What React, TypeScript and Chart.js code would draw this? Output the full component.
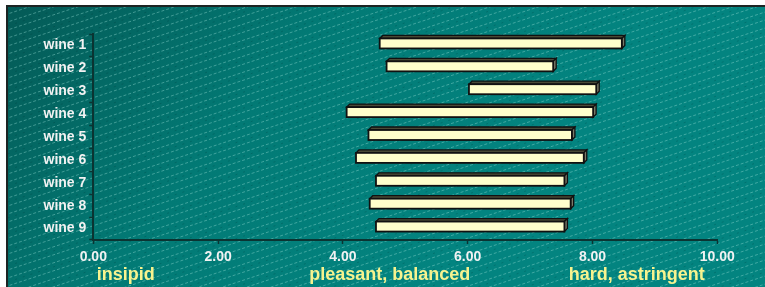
import React, { useEffect, useRef } from "react";
import { Chart, registerables } from "chart.js";

Chart.register(...registerables);

const wines = ["wine 1", "wine 2", "wine 3", "wine 4", "wine 5", "wine 6", "wine 7", "wine 8", "wine 9"];
const lowValues = [4.59, 4.70, 6.02, 4.06, 4.41, 4.21, 4.53, 4.43, 4.53];
const highValues = [8.47, 7.37, 8.06, 8.01, 7.67, 7.86, 7.55, 7.65, 7.55];
const xMin = 0;
const xMax = 10;
const xStep = 2;
const descriptorLabels = ["insipid", "pleasant, balanced", "hard, astringent"];
const descriptorPositions = [0.52, 4.75, 8.71];

const FONT = "'Liberation Sans', Arial, sans-serif";

const backgroundPlugin = {
  id: "bgPlugin",
  beforeDraw(chart: any) {
    const ctx = chart.ctx;
    const W = chart.width;
    const H = chart.height;
    ctx.save();
    ctx.fillStyle = "#ffffff";
    ctx.fillRect(0, 0, W, H);
    ctx.fillStyle = "#1c2423";
    ctx.fillRect(6, 5, W - 6, H - 5);
    const x0 = 8, y0 = 7;
    const g = ctx.createLinearGradient(x0, y0, x0 + 380, y0 + 320);
    g.addColorStop(0, "#045a56");
    g.addColorStop(0.5, "#027a75");
    g.addColorStop(1, "#038480");
    ctx.fillStyle = g;
    ctx.fillRect(x0, y0, W - x0, H - y0);
    ctx.beginPath();
    ctx.rect(x0, y0, W - x0, H - y0);
    ctx.clip();
    const slope = 0.33;
    const spacing = 8;
    ctx.lineWidth = 1;
    ctx.setLineDash([3, 2]);
    ctx.strokeStyle = "rgba(150, 222, 212, 0.42)";
    for (let c = -40; c < H + W * slope + 40; c += spacing) {
      ctx.beginPath();
      ctx.moveTo(0, c + 0.5);
      ctx.lineTo(W, c - W * slope + 0.5);
      ctx.stroke();
    }
    ctx.setLineDash([2, 6]);
    ctx.strokeStyle = "rgba(0, 40, 38, 0.2)";
    for (let c = -40 + 4; c < H + W * slope + 40; c += spacing * 2) {
      ctx.beginPath();
      ctx.moveTo(0, c + 0.5);
      ctx.lineTo(W, c - W * slope + 0.5);
      ctx.stroke();
    }
    ctx.restore();
  },
};

const bar3dPlugin = {
  id: "bar3d",
  afterDatasetsDraw(chart: any) {
    const ctx = chart.ctx;
    const meta = chart.getDatasetMeta(0);
    const d = 3;
    ctx.save();
    ctx.lineJoin = "miter";
    meta.data.forEach((el: any) => {
      const p = el.getProps(["x", "y", "base"], true);
      const left = Math.min(p.x, p.base);
      const right = Math.max(p.x, p.base);
      const top = p.y - 7;
      const bottom = p.y + 3;
      ctx.beginPath();
      ctx.moveTo(left, top);
      ctx.lineTo(left + d, top - d);
      ctx.lineTo(right + d, top - d);
      ctx.lineTo(right, top);
      ctx.closePath();
      ctx.fillStyle = "#4a4a36";
      ctx.fill();
      ctx.lineWidth = 1.3;
      ctx.strokeStyle = "#111111";
      ctx.stroke();
      ctx.beginPath();
      ctx.moveTo(right, top);
      ctx.lineTo(right + d, top - d);
      ctx.lineTo(right + d, bottom - d);
      ctx.lineTo(right, bottom);
      ctx.closePath();
      ctx.fillStyle = "#7a7a68";
      ctx.fill();
      ctx.stroke();
      ctx.fillStyle = "#ffffcc";
      ctx.fillRect(left, top, right - left, bottom - top);
      ctx.lineWidth = 1.8;
      ctx.strokeStyle = "#111111";
      ctx.strokeRect(left, top, right - left, bottom - top);
    });
    ctx.restore();
  },
  afterDraw(chart: any) {
    const ctx = chart.ctx;
    const xs = chart.scales.x;
    ctx.save();
    ctx.font = `bold 18px ${FONT}`;
    ctx.fillStyle = "#f7f38e";
    ctx.textAlign = "center";
    ctx.textBaseline = "alphabetic";
    descriptorLabels.forEach((t, i) => {
      ctx.fillText(t, xs.getPixelForValue(descriptorPositions[i]), 280);
    });
    ctx.restore();
  },
};

export default function App() {
  const ref = useRef<HTMLCanvasElement | null>(null);
  useEffect(() => {
    document.body.style.margin = "0";
    const canvas = ref.current!;
    const chart = new Chart(canvas, {
      type: "bar",
      data: {
        labels: wines,
        datasets: [
          {
            data: wines.map((_, i) => [lowValues[i], highValues[i]]) as any,
            backgroundColor: "rgba(0,0,0,0)",
            borderWidth: 0,
            barThickness: 10,
          },
        ],
      },
      options: {
        indexAxis: "y",
        responsive: false,
        animation: false,
        devicePixelRatio: 1,
        layout: { padding: { top: 34, right: 47.7, bottom: 0, left: 0 } },
        plugins: { legend: { display: false }, tooltip: { enabled: false } },
        scales: {
          x: {
            type: "linear",
            min: xMin,
            max: xMax,
            ticks: {
              stepSize: xStep,
              callback: (v: any) => Number(v).toFixed(2),
              color: "#f2f2f2",
              font: { family: FONT, size: 14, weight: "bold" },
              padding: 5,
              maxRotation: 0,
            },
            grid: {
              drawOnChartArea: false,
              drawTicks: true,
              tickLength: 4,
              tickColor: "#0b3432",
              tickWidth: 1.5,
            },
            border: { color: "#0b3432", width: 2 },
            afterFit: (s: any) => {
              s.height = 47;
            },
          },
          y: {
            type: "category",
            offset: true,
            ticks: {
              color: "#f2f2f2",
              font: { family: FONT, size: 14, weight: "bold" },
              padding: 3,
            },
            grid: {
              offset: true,
              drawOnChartArea: false,
              drawTicks: true,
              tickLength: 4,
              tickColor: "#0b3432",
              tickWidth: 1.5,
            },
            border: { color: "#0b3432", width: 2 },
            afterFit: (s: any) => {
              s.width = 93.3;
            },
          },
        },
      } as any,
      plugins: [backgroundPlugin, bar3dPlugin],
    });
    return () => chart.destroy();
  }, []);
  return <canvas ref={ref} width={765} height={287} style={{ display: "block" }} />;
}
